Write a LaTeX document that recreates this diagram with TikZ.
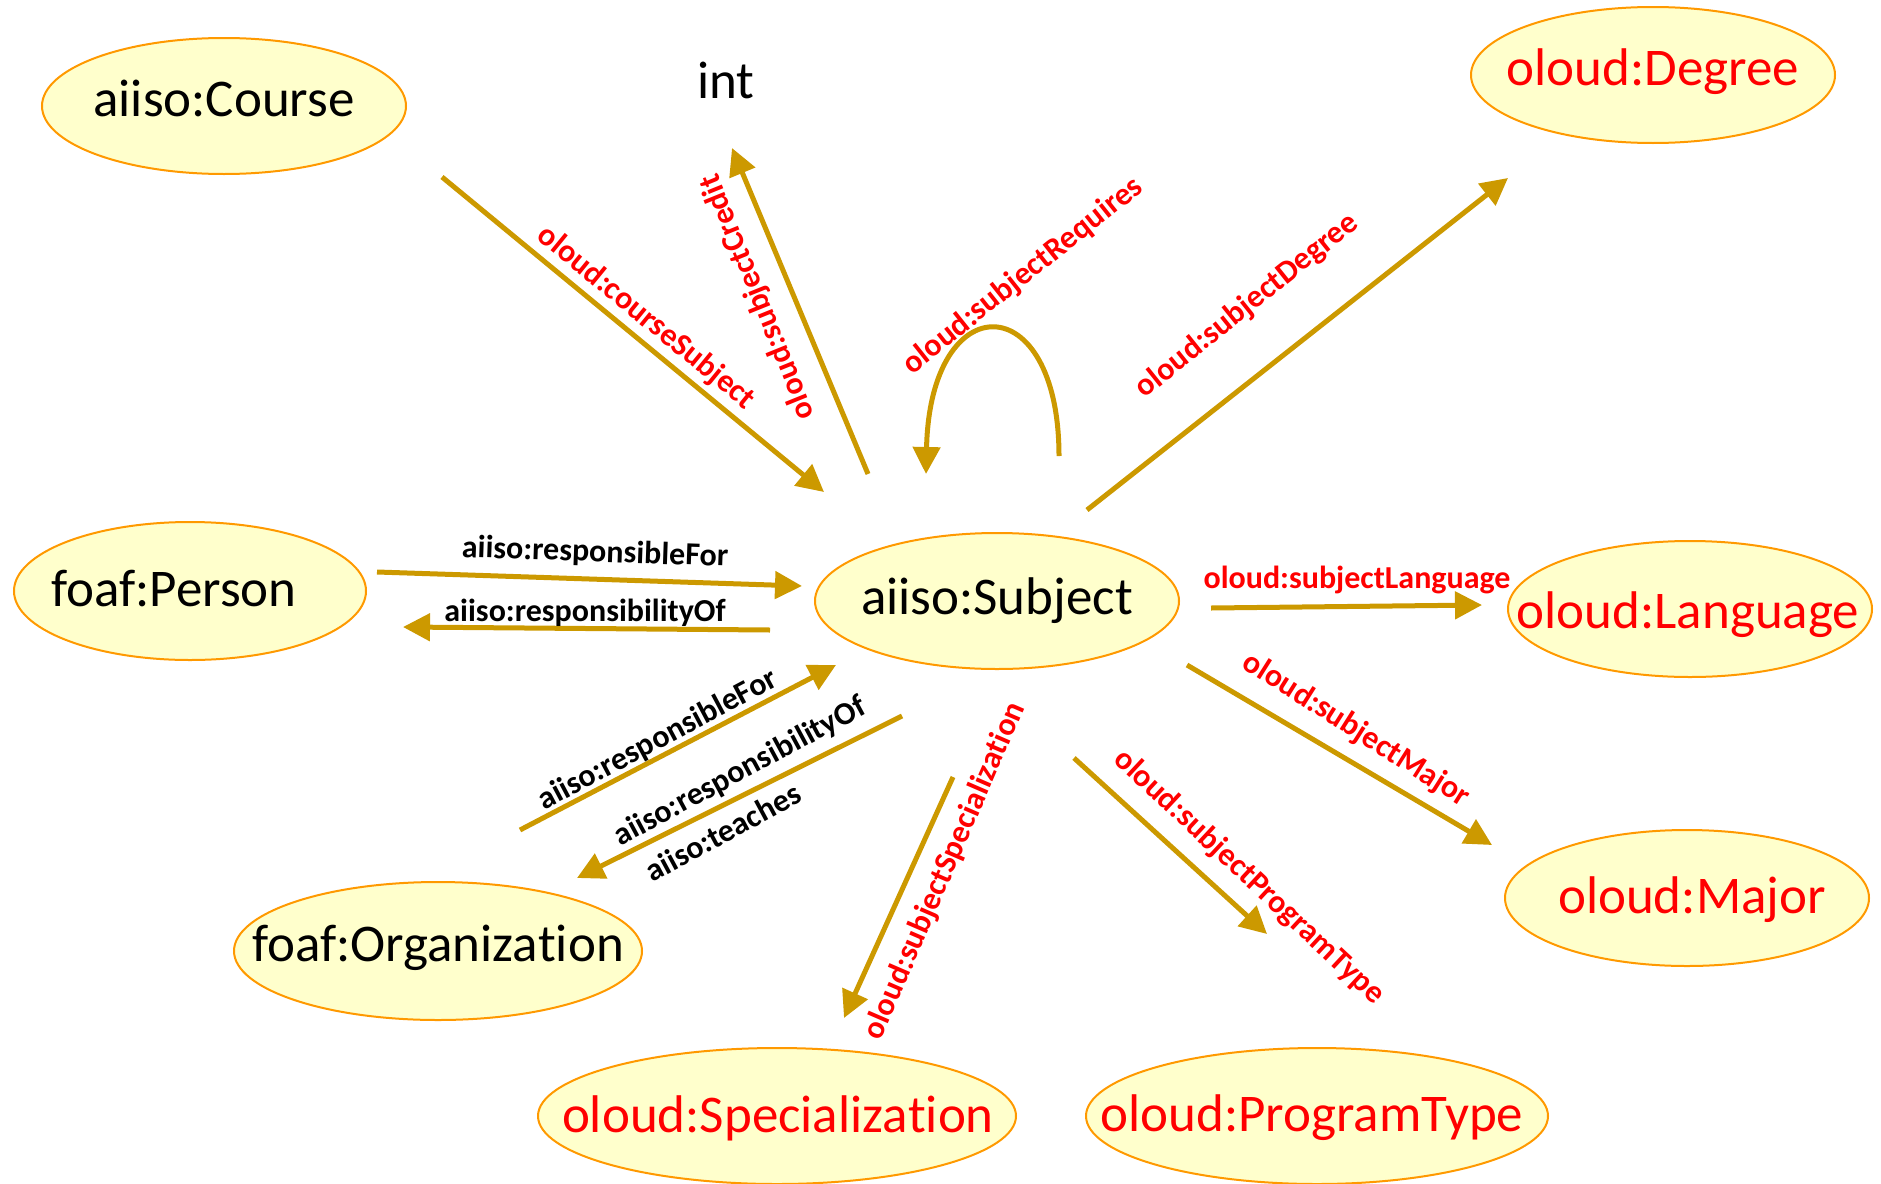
\documentclass[tikz,border=0pt]{standalone}
\usepackage{fontspec}
\setmainfont{Carlito}[RawFeature={-liga;-clig;-calt;-dlig}]
\usetikzlibrary{arrows.meta,shapes.geometric}

\definecolor{edgegold}{RGB}{204,153,0}
\definecolor{classfill}{RGB}{255,255,204}
\definecolor{classline}{RGB}{255,153,0}
\definecolor{propred}{RGB}{255,0,0}

\begin{document}
\begin{tikzpicture}[x=1pt,y=-1pt,
  cls/.style={ellipse, draw=classline, line width=2pt, fill=classfill,
    minimum width=364pt, minimum height=136pt, inner sep=0pt},
  clstext/.style={inner sep=0pt, font=\fontsize{53}{60}\selectfont},
  oloudtext/.style={clstext, text=propred},
  rel/.style={draw=edgegold, line width=5pt, -{Triangle[length=27pt,width=27pt]}},
  lbl/.style={inner sep=0pt, font=\bfseries\fontsize{32}{38}\selectfont},
  redlbl/.style={lbl, text=propred}]

\useasboundingbox (0,0) rectangle (1881,1183);

% ---- classes ----
\node[cls] (course) at (224,106) {};
\node[clstext] (course-t) at (224,98) {aiiso:Course};

\node[clstext] (int) at (726,80) {int};

\node[cls] (degree) at (1653,75) {};
\node[oloudtext] (degree-t) at (1653,72) {oloud:Degree};

\node[cls, minimum width=352pt, minimum height=138pt] (person) at (190,591) {};
\node[clstext] (person-t) at (174,589) {foaf:Person};

\node[cls] (subject) at (997,601) {};
\node[clstext] (subject-t) at (997,601) {aiiso:Subject};

\node[cls] (language) at (1690,609) {};
\node[oloudtext] (language-t) at (1688,615) {oloud:Language};

\node[cls, minimum width=408pt, minimum height=138pt] (org) at (438,951) {};
\node[clstext] (org-t) at (438,948) {foaf:Organiza\kern0pt tion};

\node[cls] (major) at (1687,898) {};
\node[oloudtext] (major-t) at (1692,900) {oloud:Major};

\node[cls, minimum width=478pt] (spec) at (777,1116) {};
\node[oloudtext] (spec-t) at (778,1118) {oloud:Specializa\kern0pt tion};

\node[cls, minimum width=462pt] (ptype) at (1317,1116) {};
\node[oloudtext] (ptype-t) at (1312,1118) {oloud:ProgramType};

% ---- connector end points ----
\coordinate (cs-a) at (442,177);  \coordinate (cs-b) at (824,492);
\coordinate (cr-a) at (868,474);  \coordinate (cr-b) at (732,148);
\coordinate (rq-a) at (1059,456); \coordinate (rq-b) at (926,474);
\coordinate (dg-a) at (1087,510); \coordinate (dg-b) at (1508,178);
\coordinate (pr-a) at (377,572);  \coordinate (pr-b) at (802,586);
\coordinate (po-a) at (770,630);  \coordinate (po-b) at (403,627);
\coordinate (or-a) at (520,830);  \coordinate (or-b) at (836,665);
\coordinate (oo-a) at (902,716);  \coordinate (oo-b) at (577,878);
\coordinate (lg-a) at (1211,608); \coordinate (lg-b) at (1482,605);
\coordinate (mj-a) at (1187,665); \coordinate (mj-b) at (1492,845);
\coordinate (pt-a) at (1074,758); \coordinate (pt-b) at (1267,934);
\coordinate (sp-a) at (953,777);  \coordinate (sp-b) at (844,1018);

% ---- properties ----
\draw[rel] (cs-a) -- (cs-b);
\node[redlbl, rotate=-39.3] (cs-l) at (646,318) {oloud:courseSubject};

\draw[rel] (cr-a) -- (cr-b);
\node[redlbl, rotate=112] (cr-l) at (758,297) {oloud:subjectCredit};

\draw[rel] (rq-a) .. controls (1059,285) and (930,285) .. (rq-b);
\node[redlbl, rotate=38.5] (rq-l) at (1023,276) {oloud:subjectRequires};

\draw[rel] (dg-a) -- (dg-b);
\node[redlbl, rotate=38.7] (dg-l) at (1247,306) {oloud:subjectDegree};

\draw[rel] (pr-a) -- (pr-b);
\node[lbl, rotate=-2] (pr-l) at (595,553) {aiiso:responsibleFor};

\draw[rel] (po-a) -- (po-b);
\node[lbl] (po-l) at (585,613) {aiiso:responsibilityOf};

\draw[rel] (or-a) -- (or-b);
\node[lbl, rotate=28] (or-l) at (658,740) {aiiso:responsibleFor};

\draw[rel] (oo-a) -- (oo-b);
\node[lbl, rotate=28.3] (oo-l1) at (740,772) {aiiso:responsibilityOf};
\node[lbl, rotate=28.3] (oo-l2) at (723,832) {aiiso:teaches};

\draw[rel] (lg-a) -- (lg-b);
\node[redlbl] (lg-l) at (1357,580) {oloud:subjectLanguage};

\draw[rel] (mj-a) -- (mj-b);
\node[redlbl, rotate=-32.3] (mj-l) at (1356,730) {oloud:subjectMajor};

\draw[rel] (pt-a) -- (pt-b);
\node[redlbl, rotate=-43] (pt-l) at (1249,877) {oloud:subjectProgramType};

\draw[rel] (sp-a) -- (sp-b);
\node[redlbl, rotate=66.6] (sp-l) at (945,871) {oloud:subjectSpecializa\kern0pt tion};

\end{tikzpicture}
\end{document}
